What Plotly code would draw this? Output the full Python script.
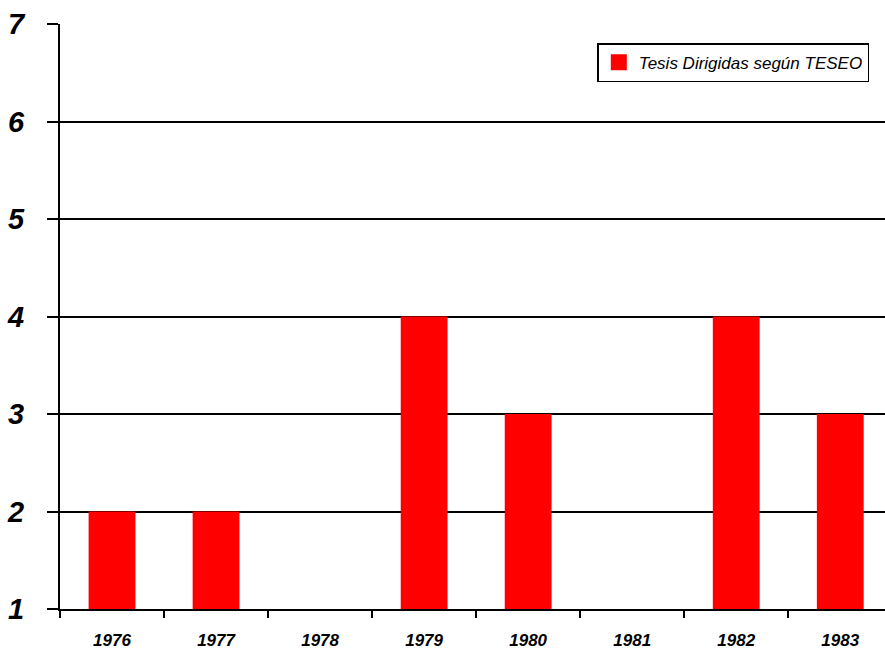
import plotly.graph_objects as go

# Theses supervised per year (TESEO database)
years = ["1976", "1977", "1978", "1979", "1980", "1981", "1982", "1983"]
theses = [2, 2, 0, 4, 3, 0, 4, 3]
y_ticks = [1, 2, 3, 4, 5, 6, 7]
series_name = "Tesis Dirigidas según TESEO"
bar_color = "#ff0000"

SANS = "Liberation Sans, Arial, sans-serif"

fig = go.Figure()
fig.add_trace(go.Bar(
    x=years,
    y=theses,
    name=series_name,
    marker=dict(color=bar_color, line=dict(width=0)),
    width=0.45,
    showlegend=False,
    legendgroup="s",
))
# legend entry with a larger square key
fig.add_trace(go.Scatter(
    x=[None], y=[None],
    mode="markers",
    name=series_name,
    marker=dict(symbol="square", size=16, color=bar_color),
    legendgroup="s",
))

fig.update_layout(
    width=885,
    height=649,
    margin=dict(l=60, r=0, t=24, b=40),
    plot_bgcolor="white",
    paper_bgcolor="white",
    showlegend=True,
    legend=dict(
        x=0.981, y=0.967, xanchor="right", yanchor="top",
        bgcolor="white", bordercolor="black", borderwidth=1.5,
        font=dict(family=SANS, size=17, color="black", style="italic"),
        itemsizing="trace",
        itemwidth=30,
    ),
    bargap=0.55,
)

fig.update_xaxes(
    type="category",
    range=[-0.5, 7.43],
    automargin=False,
    showline=True, linecolor="black", linewidth=2,
    ticks="outside", tickson="boundaries", ticklen=7, tickwidth=1.5,
    tickcolor="black",
    showgrid=False,
    tickfont=dict(family=SANS, size=17, color="black",
                  weight="bold", style="italic"),
    ticklabelstandoff=15,
)

fig.update_yaxes(
    range=[1, 7],
    tickvals=y_ticks,
    automargin=False,
    showline=True, linecolor="black", linewidth=2,
    ticks="outside", ticklen=11, tickwidth=1.5, tickcolor="black",
    showgrid=True, gridcolor="black", gridwidth=1.5,
    zeroline=False,
    tickfont=dict(family=SANS, size=29, color="black",
                  weight="bold", style="italic"),
    ticklabelstandoff=17,
)

fig.write_html("out.html")
